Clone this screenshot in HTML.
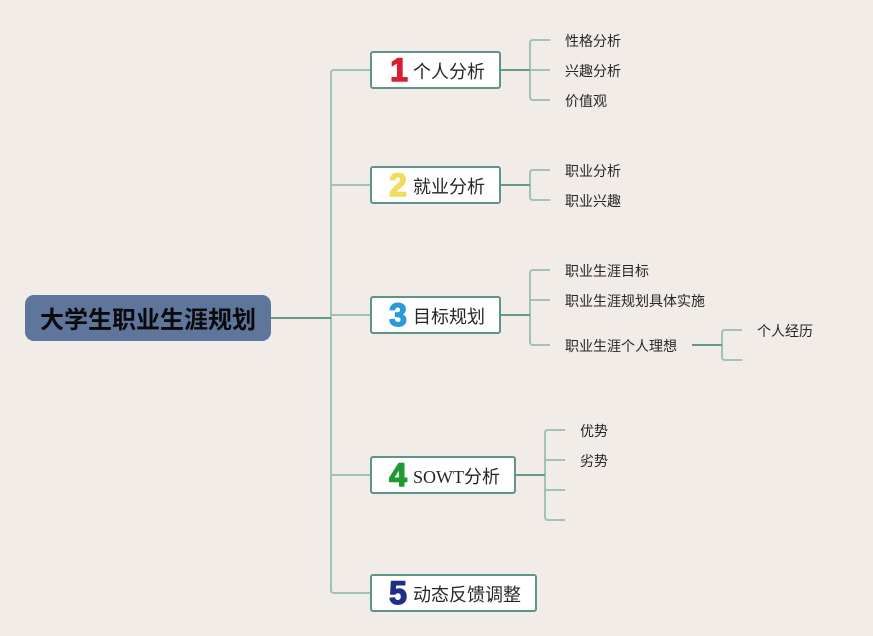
<!DOCTYPE html>
<html lang="zh">
<head>
<meta charset="utf-8">
<title>大学生职业生涯规划</title>
<style>
html,body{margin:0;padding:0;background:#f1ece7;}
svg{display:block;}
text{font-family:"Liberation Sans","Noto Sans CJK SC",sans-serif;fill:#1c1c1c;}
.leaf{font-size:14px;fill:#262626;}
.topic{font-size:18px;fill:#262626;}
.serif{font-family:"Liberation Serif","Noto Sans CJK SC",serif;}
.num{font-family:"Liberation Sans",sans-serif;font-weight:bold;font-size:32px;text-anchor:middle;stroke-width:1.4px;stroke-linejoin:round;}
.box{fill:#fff;stroke:#5f9488;stroke-width:2;}
.l1{fill:none;stroke:#a3c2b5;stroke-width:2;}
.l2{fill:none;stroke:#a3c2b5;stroke-width:2;}
.d{fill:none;stroke:#649a8c;stroke-width:2;}
</style>
</head>
<body>
<svg width="873" height="636" viewBox="0 0 873 636" xmlns="http://www.w3.org/2000/svg">
<rect width="873" height="636" fill="#f1ece7"/>

<!-- main trunk -->
<path class="l1" d="M371 70H334Q331 70 331 73V590Q331 593 334 593H371"/>
<path class="l1" d="M331 185H371M331 315H371M331 475H371"/>
<path class="d" d="M271 318H331"/>

<!-- branch 1 -->
<path class="l2" d="M550 40H533Q530 40 530 43V97Q530 100 533 100H550M530 70H550"/>
<path class="d" d="M500 70H530"/>

<!-- branch 2 -->
<path class="l2" d="M550 170H533Q530 170 530 173V197Q530 200 533 200H550"/>
<path class="d" d="M500 185H530"/>

<!-- branch 3 -->
<path class="l2" d="M550 270H533Q530 270 530 273V342Q530 345 533 345H550M530 300H550"/>
<path class="d" d="M500 315H530"/>
<path class="l2" d="M742 330H725Q722 330 722 333V357Q722 360 725 360H742"/>
<path class="d" d="M692 345H722"/>

<!-- branch 4 -->
<path class="l2" d="M565 430H548Q545 430 545 433V517Q545 520 548 520H565M545 460H565M545 490H565"/>
<path class="d" d="M515 475H545"/>

<!-- root -->
<rect x="25" y="295" width="246" height="46" rx="9" ry="9" fill="#5f769c"/>
<text x="40" y="328" font-size="24" font-weight="bold" style="fill:#0a0a0a">大学生职业生涯规划</text>

<!-- topics -->
<rect class="box" x="371" y="52" width="129" height="36" rx="2"/>
<text class="num" x="399" y="81" style="fill:#d81e33;stroke:#d81e33">1</text>
<text class="topic" x="413" y="78">个人分析</text>

<rect class="box" x="371" y="167" width="129" height="36" rx="2"/>
<text class="num" x="398" y="196" style="fill:#f2dc5d;stroke:#f2dc5d">2</text>
<text class="topic" x="413" y="193">就业分析</text>

<rect class="box" x="371" y="297" width="129" height="36" rx="2"/>
<text class="num" x="398" y="326" style="fill:#2a9bd8;stroke:#2a9bd8">3</text>
<text class="topic" x="413" y="323">目标规划</text>

<rect class="box" x="371" y="457" width="144" height="36" rx="2"/>
<text class="num" x="398" y="486" style="fill:#1f9a2e;stroke:#1f9a2e">4</text>
<text class="topic serif" x="413" y="483">SOWT分析</text>

<rect class="box" x="371" y="575" width="165" height="36" rx="2"/>
<text class="num" x="398" y="604" style="fill:#1f2f85;stroke:#1f2f85">5</text>
<text class="topic" x="413" y="601">动态反馈调整</text>

<!-- leaves -->
<text class="leaf" x="565" y="46">性格分析</text>
<text class="leaf" x="565" y="76">兴趣分析</text>
<text class="leaf" x="565" y="106">价值观</text>
<text class="leaf" x="565" y="176">职业分析</text>
<text class="leaf" x="565" y="206">职业兴趣</text>
<text class="leaf" x="565" y="276">职业生涯目标</text>
<text class="leaf" x="565" y="306">职业生涯规划具体实施</text>
<text class="leaf" x="565" y="351">职业生涯个人理想</text>
<text class="leaf" x="757" y="336">个人经历</text>
<text class="leaf" x="580" y="436">优势</text>
<text class="leaf" x="580" y="466">劣势</text>
</svg>
</body>
</html>
